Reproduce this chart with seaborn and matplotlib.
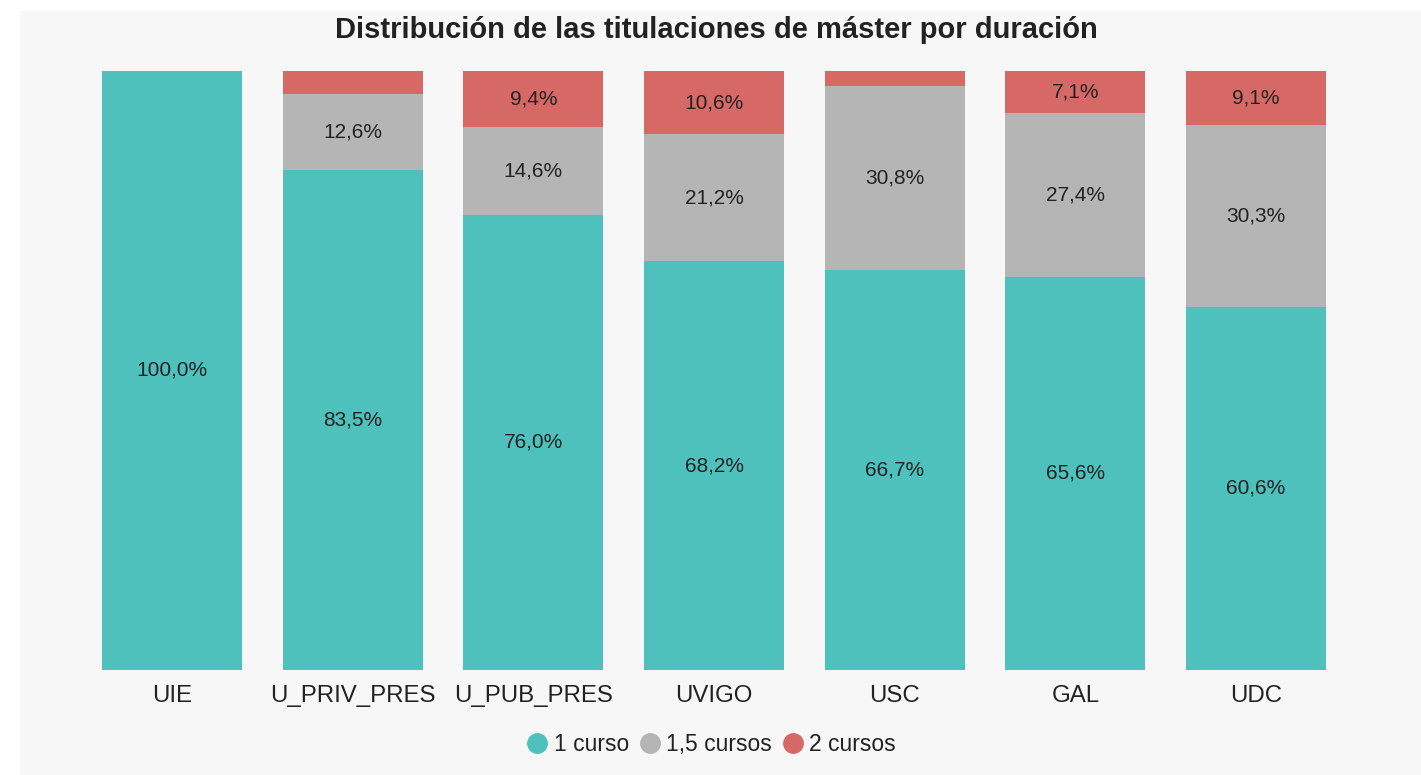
import numpy as np
import pandas as pd
import matplotlib.pyplot as plt
import seaborn as sns
from matplotlib.lines import Line2D
from matplotlib.patches import Rectangle

universidades = ["UIE", "U_PRIV_PRES", "U_PUB_PRES", "UVIGO", "USC", "GAL", "UDC"]
un_curso = [100.0, 83.5, 76.0, 68.2, 66.7, 65.6, 60.6]
curso_y_medio = [0.0, 12.6, 14.6, 21.2, 30.8, 27.4, 30.3]
dos_cursos = [0.0, 3.9, 9.4, 10.6, 2.5, 7.1, 9.1]

series = ["1 curso", "1,5 cursos", "2 cursos"]
colores = ["#4fc1bd", "#b5b5b5", "#d66966"]
BG = "#f7f7f7"

sns.set_theme(style="white")
plt.rcParams["font.family"] = ["Liberation Sans", "DejaVu Sans"]

fig = plt.figure(figsize=(14.21, 7.75), dpi=100, facecolor="white")
# grey panel with a thin white margin on the left and top
fig.patches.append(Rectangle((20 / 1421, 0), 1 - 20 / 1421, 1 - 11 / 775,
                             transform=fig.transFigure, facecolor=BG,
                             edgecolor="none", zorder=-5))
ax = fig.add_axes([0.0575, 0.1355, 0.890, 0.773])
ax.set_facecolor(BG)

df = pd.DataFrame({"uni": universidades, "a": un_curso,
                   "b": curso_y_medio, "c": dos_cursos})
df["ab"] = df["a"] + df["b"]
df["abc"] = df["ab"] + df["c"]

# stacked look: draw cumulative heights from tallest to shortest
for col, color in zip(["abc", "ab", "a"], colores[::-1]):
    sns.barplot(data=df, x="uni", y=col, color=color, saturation=1,
                width=0.775, linewidth=0, ax=ax)

# labels in the middle of each segment (tiny ones are skipped)
for i, row in df.iterrows():
    segs = [(0, row["a"]), (row["a"], row["b"]), (row["ab"], row["c"])]
    for base, val in segs:
        if val < 5:
            continue
        ax.text(i, base + val / 2, f"{val:.1f}%".replace(".", ","),
                ha="center", va="center", fontsize=15, color="#222222")

ax.set_xlim(-0.5, 6.5)
ax.set_ylim(0, 100)
ax.set_xlabel("")
ax.set_ylabel("")
ax.set_yticks([])
ax.tick_params(axis="x", length=0, pad=11, labelsize=17.3, labelcolor="#222222")
sns.despine(ax=ax, left=True, bottom=True)

fig.text(0.504, 0.961, "Distribución de las titulaciones de máster por duración",
         ha="center", va="center", fontsize=21, fontweight="bold", color="#222222")

handles = [Line2D([0], [0], marker="o", linestyle="", markersize=14,
                  markerfacecolor=c, markeredgecolor=c) for c in colores]
fig.legend(handles, series, loc="center", bbox_to_anchor=(0.501, 0.039),
           ncol=3, frameon=False, fontsize=16.5, handlelength=0.83,
           handletextpad=0.3, columnspacing=0.5, labelcolor="#222222")

plt.savefig("out.png", dpi=100, facecolor=fig.get_facecolor())
